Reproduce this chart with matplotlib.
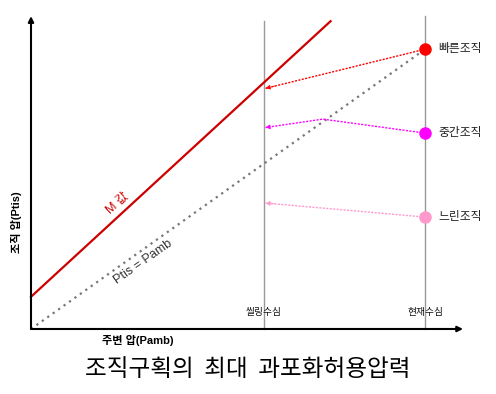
import matplotlib
matplotlib.use('Agg')
import matplotlib.pyplot as plt

plt.rcParams['font.family'] = ['Liberation Sans', 'Noto Sans CJK KR']

# data (Pamb / Ptis in arbitrary units)
depth_names = ['씰링수심', '현재수심']
depth_x = [5.9, 10.0]
depth_top = [11.0, 11.2]

m_x = [0.0, 7.6]
m_y = [1.15, 11.0]
ident_x = [0.0, 10.0]
ident_y = [0.0, 10.0]

tissue_names = ['빠른조직', '중간조직', '느린조직']
tissue_colors = ['#ff0000', '#ff00ff', '#ff99cc']
tissue_now = [10.0, 7.0, 4.0]
# path of each arrow from current depth back to ceiling depth
tissue_path_x = [[10.0, 5.95], [10.0, 7.4, 5.95], [10.0, 5.95]]
tissue_path_y = [[10.0, 8.6], [7.0, 7.5, 7.2], [4.0, 4.5]]

fig = plt.figure(figsize=(4.96, 3.94), dpi=100)
ax = fig.add_axes((0.0625, 0.165, 0.871, 0.794))
ax.set_xlim(0, 10.96)
ax.set_ylim(0, 11.18)
ax.axis('off')

# axes with arrow heads
ax.annotate('', xy=(10.96, 0), xytext=(0, 0),
            arrowprops=dict(arrowstyle='-|>', color='black', lw=1.5,
                            mutation_scale=8, shrinkA=0, shrinkB=0),
            annotation_clip=False)
ax.annotate('', xy=(0, 11.18), xytext=(0, 0),
            arrowprops=dict(arrowstyle='-|>', color='black', lw=1.5,
                            mutation_scale=8, shrinkA=0, shrinkB=0),
            annotation_clip=False)

for name, x, top in zip(depth_names, depth_x, depth_top):
    ax.plot([x, x], [0, top], color='#999999', lw=1.0, clip_on=False)
    ax.text(x, 0.62, name, ha='center', va='center', fontsize=7,
            color='#111111')

ax.plot(m_x, m_y, color='#cc0000', lw=1.6, clip_on=False)
ax.plot(ident_x, ident_y, color='#777777', lw=1.6, ls=(0, (1, 2)))

for name, col, y, px, py in zip(tissue_names, tissue_colors, tissue_now,
                                tissue_path_x, tissue_path_y):
    ax.plot(px, py, color=col, lw=1.0, ls=(0, (1.5, 1)))
    tail = (px[-1] + 0.06 * (px[-2] - px[-1]),
            py[-1] + 0.06 * (py[-2] - py[-1]))
    ax.annotate('', xy=(px[-1], py[-1]), xytext=tail,
                arrowprops=dict(arrowstyle='-|>', color=col, lw=0.5,
                                mutation_scale=7, shrinkA=0, shrinkB=0))
    ax.plot(10.0, y, 'o', color=col, ms=8, zorder=5)
    ax.text(10.33, y, name, ha='left', va='center', fontsize=8.5,
            color='#222222')

ax.text(2.2, 4.5, 'M 값', color='#cc0000', fontsize=9, rotation=42.5,
        ha='center', va='center')
ax.text(2.84, 2.38, 'Ptis = Pamb', color='#333333', fontsize=9,
        rotation=35, ha='center', va='center')

fig.text(0.034, 0.437, '조직 압(Ptis)', rotation=90, ha='center',
         va='center', fontsize=8, fontweight='bold')
fig.text(0.278, 0.137, '주변 압(Pamb)', ha='center', va='center',
         fontsize=8, fontweight='bold')
fig.text(0.5, 0.061, '조직구획의  최대  과포화허용압력', ha='center',
         va='center', fontsize=17, family=['Noto Sans CJK KR'])

fig.savefig('out.png', dpi=100, facecolor='white')
